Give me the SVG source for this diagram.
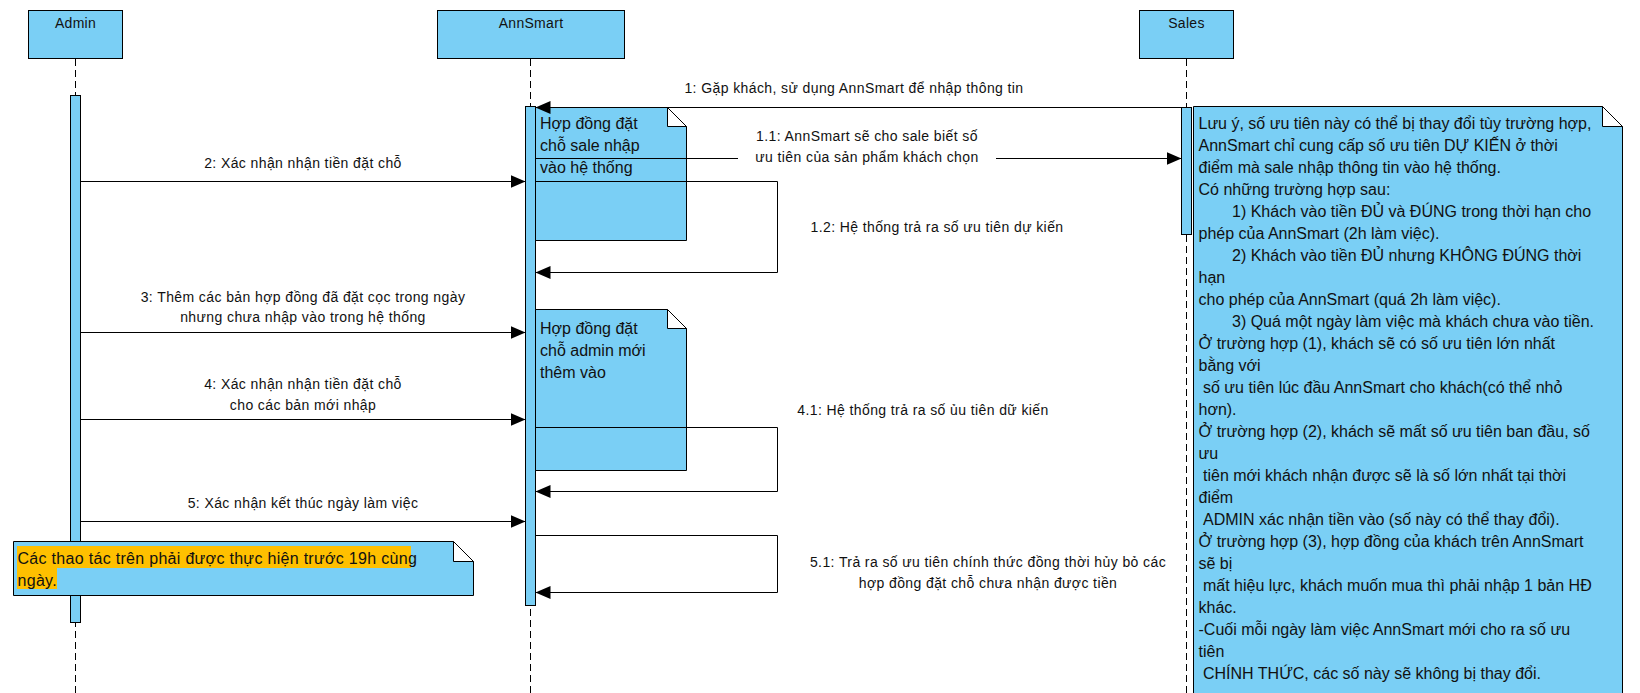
<svg xmlns="http://www.w3.org/2000/svg" width="1640" height="693" viewBox="0 0 1640 693">
<style>
.box{fill:#7ACFF5;stroke:#000;stroke-width:1}
.life{stroke:#000;stroke-width:1;stroke-dasharray:7 4;fill:none}
.msg{stroke:#000;stroke-width:1;fill:none;marker-end:url(#arr)}
.fold{fill:#fff;stroke:#000;stroke-width:1}
.hd{font-family:"Liberation Sans",Arial,sans-serif;font-size:14px;letter-spacing:0.3px;fill:#111;text-anchor:middle}
.lbl{font-family:"Liberation Sans",Arial,sans-serif;font-size:14px;letter-spacing:0.4px;fill:#111;text-anchor:middle}
.nt{font-family:"Liberation Sans",Arial,sans-serif;font-size:16px;fill:#111}
.hl{fill:#FFC000}
</style>
<defs>
<marker id="arr" markerUnits="userSpaceOnUse" markerWidth="16" markerHeight="14" refX="15" refY="6.5" orient="auto">
<path d="M0,0 L15,6.5 L0,13 z" fill="#000"/>
</marker>
</defs>
<rect width="1640" height="693" fill="#fff"/>

<g id="admin">
<rect class="box" x="28.5" y="10.5" width="94" height="48"/>
<text class="hd" x="75.5" y="28">Admin</text>
<line class="life" x1="75.5" y1="59" x2="75.5" y2="693"/>
<rect class="box" x="70.5" y="95.5" width="10" height="527"/>
</g>

<g id="annsmart">
<rect class="box" x="437.5" y="10.5" width="187" height="48"/>
<text class="hd" x="531" y="28">AnnSmart</text>
<line class="life" x1="530.5" y1="59" x2="530.5" y2="693"/>
<rect class="box" x="525.5" y="106.5" width="10" height="499"/>
</g>

<g id="sales">
<rect class="box" x="1139.5" y="10.5" width="94" height="48"/>
<text class="hd" x="1186.5" y="28">Sales</text>
<line class="life" x1="1186.5" y1="59" x2="1186.5" y2="693"/>
<rect class="box" x="1181.5" y="107.5" width="10" height="127"/>
</g>

<g id="note-sale">
<path class="box" d="M535.5,107.5 H667.5 L686.5,126.5 V240.5 H535.5 Z"/>
<path class="fold" d="M667.5,107.5 V126.5 H686.5 Z"/>
<text class="nt" x="540" y="129">Hợp đồng đặt</text>
<text class="nt" x="540" y="151">chỗ sale nhập</text>
<text class="nt" x="540" y="173">vào hệ thống</text>
</g>

<g id="note-admin">
<path class="box" d="M535.5,309.5 H667.5 L686.5,328.5 V470.5 H535.5 Z"/>
<path class="fold" d="M667.5,309.5 V328.5 H686.5 Z"/>
<text class="nt" x="540" y="334">Hợp đồng đặt</text>
<text class="nt" x="540" y="356">chỗ admin mới</text>
<text class="nt" x="540" y="378">thêm vào</text>
</g>

<g id="note-time">
<path class="box" d="M13.5,541.5 H453.5 L473.5,561.5 V595.5 H13.5 Z"/>
<path class="fold" d="M453.5,541.5 V561.5 H473.5 Z"/>
<rect class="hl" x="17" y="546" width="394" height="22"/>
<rect class="hl" x="17" y="568" width="40" height="21"/>
<text class="nt" x="17.5" y="563.5" letter-spacing="0.3">Các thao tác trên phải được thực hiện trước 19h cùng</text>
<text class="nt" x="17.5" y="585.5" letter-spacing="0.3">ngày.</text>
</g>

<g id="note-priority">
<path class="box" d="M1193.5,106.5 H1602.5 L1622.5,126.5 V700 H1193.5 Z"/>
<path class="fold" d="M1602.5,106.5 V126.5 H1622.5 Z"/>
<g class="nt">
<text x="1198.5" y="128.5">Lưu ý, số ưu tiên này có thể bị thay đổi tùy trường hợp,</text>
<text x="1198.5" y="150.5">AnnSmart chỉ cung cấp số ưu tiên DỰ KIẾN ở thời</text>
<text x="1198.5" y="172.5">điểm mà sale nhập thông tin vào hệ thống.</text>
<text x="1198.5" y="194.5">Có những trường hợp sau:</text>
<text x="1232" y="216.5">1) Khách vào tiền ĐỦ và ĐÚNG trong thời hạn cho</text>
<text x="1198.5" y="238.5">phép của AnnSmart (2h làm việc).</text>
<text x="1232" y="260.5">2) Khách vào tiền ĐỦ nhưng KHÔNG ĐÚNG thời</text>
<text x="1198.5" y="282.5">hạn</text>
<text x="1198.5" y="304.5">cho phép của AnnSmart (quá 2h làm việc).</text>
<text x="1232" y="326.5">3) Quá một ngày làm việc mà khách chưa vào tiền.</text>
<text x="1198.5" y="348.5">Ở trường hợp (1), khách sẽ có số ưu tiên lớn nhất</text>
<text x="1198.5" y="370.5">bằng với</text>
<text x="1203" y="392.5">số ưu tiên lúc đầu AnnSmart cho khách(có thể nhỏ</text>
<text x="1198.5" y="414.5">hơn).</text>
<text x="1198.5" y="436.5">Ở trường hợp (2), khách sẽ mất số ưu tiên ban đầu, số</text>
<text x="1198.5" y="458.5">ưu</text>
<text x="1203" y="480.5">tiên mới khách nhận được sẽ là số lớn nhất tại thời</text>
<text x="1198.5" y="502.5">điểm</text>
<text x="1203" y="524.5">ADMIN xác nhận tiền vào (số này có thể thay đổi).</text>
<text x="1198.5" y="546.5">Ở trường hợp (3), hợp đồng của khách trên AnnSmart</text>
<text x="1198.5" y="568.5">sẽ bị</text>
<text x="1203" y="590.5">mất hiệu lực, khách muốn mua thì phải nhập 1 bản HĐ</text>
<text x="1198.5" y="612.5">khác.</text>
<text x="1198.5" y="634.5">-Cuối mỗi ngày làm việc AnnSmart mới cho ra số ưu</text>
<text x="1198.5" y="656.5">tiên</text>
<text x="1203" y="678.5">CHÍNH THỨC, các số này sẽ không bị thay đổi.</text>
</g>
</g>

<g id="connectors">
<path class="msg" d="M1181.5,107.5 H535.5"/>
<path class="msg" d="M535.5,158.5 H738 M996,158.5 H1181.5"/>
<path class="msg" d="M80.5,181.5 H525.5"/>
<path class="msg" d="M535.5,181.5 H777.5 V272.5 H535.5"/>
<path class="msg" d="M80.5,332.5 H525.5"/>
<path class="msg" d="M80.5,419.5 H525.5"/>
<path class="msg" d="M535.5,427.5 H777.5 V491.5 H535.5"/>
<path class="msg" d="M80.5,521.5 H525.5"/>
<path class="msg" d="M535.5,535.5 H777.5 V592.5 H535.5"/>
<g class="lbl">
<text x="854" y="93">1: Gặp khách, sử dụng AnnSmart để nhập thông tin</text>
<text x="867" y="141">1.1: AnnSmart sẽ cho sale biết số</text>
<text x="867" y="162">ưu tiên của sản phẩm khách chọn</text>
<text x="303" y="168">2: Xác nhận nhận tiền đặt chỗ</text>
<text x="937" y="231.5">1.2: Hệ thống trả ra số ưu tiên dự kiến</text>
<text x="303" y="301.5">3: Thêm các bản hợp đồng đã đặt cọc trong ngày</text>
<text x="303" y="322">nhưng chưa nhập vào trong hệ thống</text>
<text x="303" y="389">4: Xác nhận nhận tiền đặt chỗ</text>
<text x="303" y="409.5">cho các bản mới nhập</text>
<text x="923" y="414.5">4.1: Hệ thống trả ra số ủu tiên dữ kiến</text>
<text x="303" y="508">5: Xác nhận kết thúc ngày làm việc</text>
<text x="988" y="567">5.1: Trả ra số ưu tiên chính thức đồng thời hủy bỏ các</text>
<text x="988" y="588">hợp đồng đặt chỗ chưa nhận được tiền</text>
</g>
</g>
</svg>
